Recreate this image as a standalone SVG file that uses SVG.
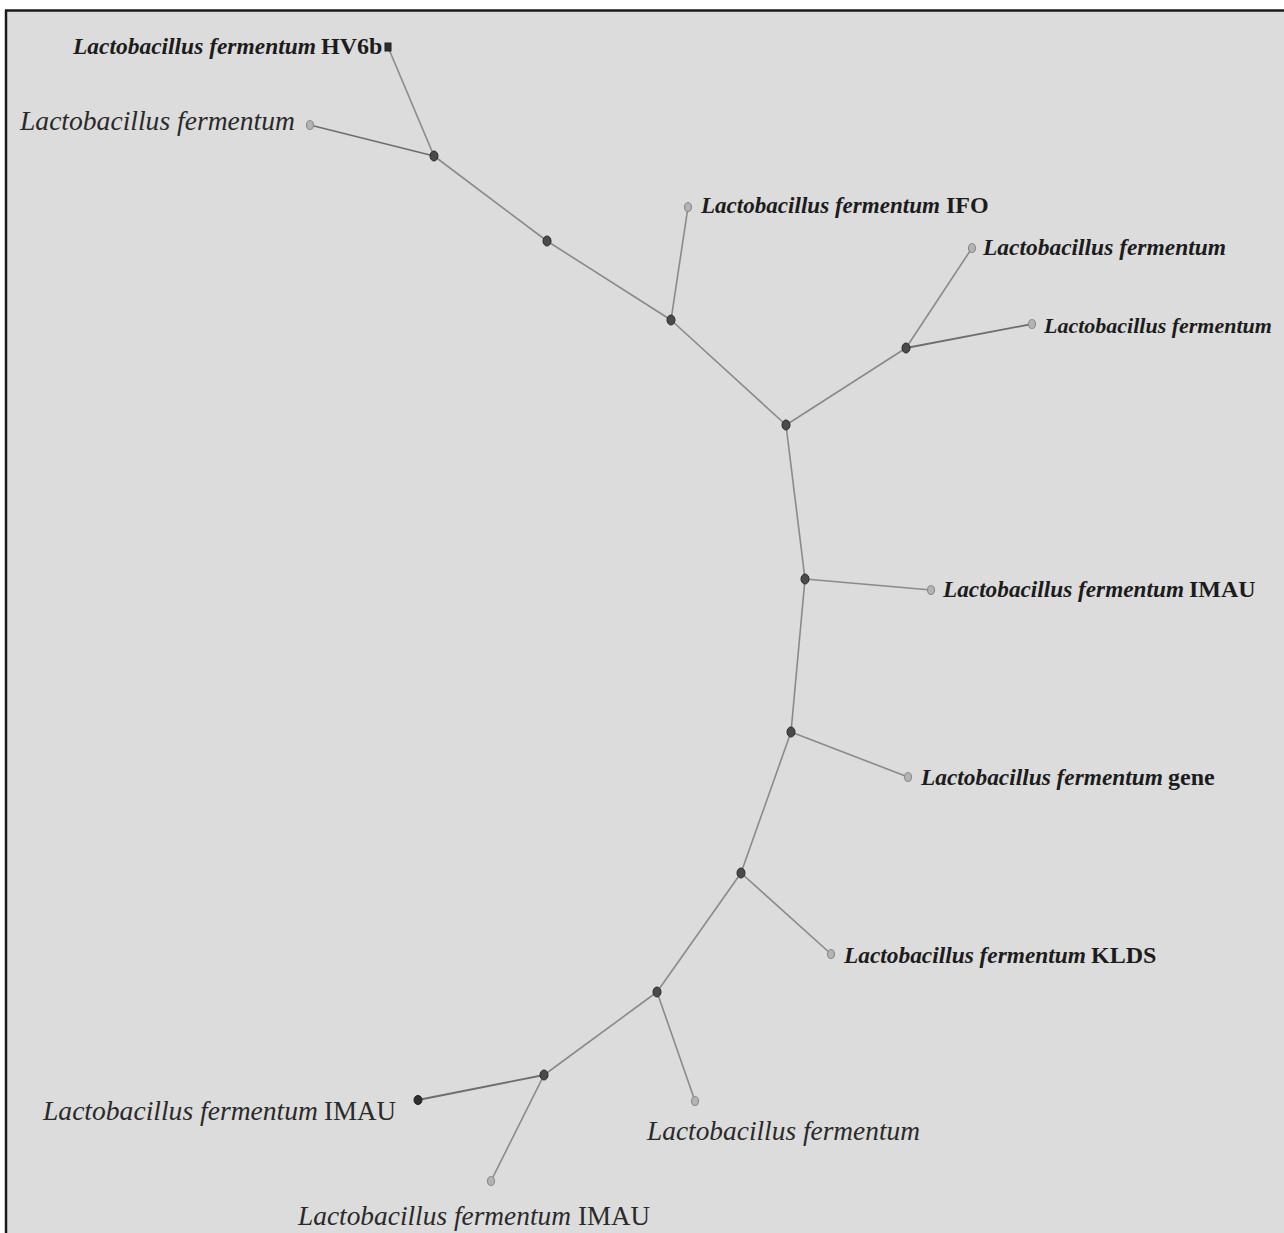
<svg xmlns="http://www.w3.org/2000/svg" width="1284" height="1233" viewBox="0 0 1284 1233">
  <style>
    .edge { stroke: #8a8a8a; stroke-width: 1.6; fill: none; }
    .edge-dark { stroke: #6e6e6e; stroke-width: 1.8; fill: none; }
    .inner { fill: #4a4a4a; stroke: #2a2a2a; stroke-width: 1; }
    .leaf { fill: #b4b4b4; stroke: #8c8c8c; stroke-width: 1.2; }
    .leaf-dark { fill: #2e2e2e; stroke: #1e1e1e; stroke-width: 1; }
    .lbl-b { font-family: "Liberation Serif", "DejaVu Serif", serif; font-weight: bold; font-size: 24px; fill: #1c1c1c; }
    .lbl { font-family: "Liberation Serif", "DejaVu Serif", serif; font-size: 27px; fill: #2a2a2a; }
    .it { font-style: italic; }
  </style>
  <rect x="0" y="0" width="1284" height="1233" fill="#ffffff"/>
  <rect x="6" y="10" width="1278" height="1223" fill="#dcdcdc"/>
  <line x1="5" y1="10.5" x2="1284" y2="10.5" stroke="#1a1a1a" stroke-width="2.5"/>
  <line x1="6" y1="10" x2="6" y2="1233" stroke="#1a1a1a" stroke-width="2.5"/>

  <g id="connectors">
    <line class="edge" x1="434" y1="156" x2="547" y2="241"/>
    <line class="edge" x1="547" y1="241" x2="671" y2="320"/>
    <line class="edge" x1="671" y1="320" x2="786" y2="425"/>
    <line class="edge" x1="786" y1="425" x2="906" y2="348"/>
    <line class="edge" x1="786" y1="425" x2="805" y2="579"/>
    <line class="edge" x1="805" y1="579" x2="791" y2="732"/>
    <line class="edge" x1="791" y1="732" x2="741" y2="873"/>
    <line class="edge" x1="741" y1="873" x2="657" y2="992"/>
    <line class="edge" x1="657" y1="992" x2="544" y2="1075"/>
    <line class="edge" x1="434" y1="156" x2="388" y2="47"/>
    <line class="edge-dark" x1="434" y1="156" x2="310" y2="125"/>
    <line class="edge" x1="671" y1="320" x2="688" y2="207"/>
    <line class="edge" x1="906" y1="348" x2="972" y2="248"/>
    <line class="edge-dark" x1="906" y1="348" x2="1032" y2="324"/>
    <line class="edge" x1="805" y1="579" x2="931" y2="590"/>
    <line class="edge" x1="791" y1="732" x2="908" y2="777"/>
    <line class="edge" x1="741" y1="873" x2="831" y2="954"/>
    <line class="edge" x1="657" y1="992" x2="695" y2="1101"/>
    <line class="edge-dark" x1="544" y1="1075" x2="418" y2="1100"/>
    <line class="edge" x1="544" y1="1075" x2="491" y2="1181"/>
  </g>

  <g id="n-A"><ellipse class="inner" cx="434" cy="156" rx="4" ry="5"/></g>
  <g id="n-B"><ellipse class="inner" cx="547" cy="241" rx="4" ry="5"/></g>
  <g id="n-C"><ellipse class="inner" cx="671" cy="320" rx="4" ry="5"/></g>
  <g id="n-D"><ellipse class="inner" cx="786" cy="425" rx="4" ry="5"/></g>
  <g id="n-E"><ellipse class="inner" cx="906" cy="348" rx="4" ry="5"/></g>
  <g id="n-F"><ellipse class="inner" cx="805" cy="579" rx="4" ry="5"/></g>
  <g id="n-G"><ellipse class="inner" cx="791" cy="732" rx="4" ry="5"/></g>
  <g id="n-H"><ellipse class="inner" cx="741" cy="873" rx="4" ry="5"/></g>
  <g id="n-I"><ellipse class="inner" cx="657" cy="992" rx="4" ry="5"/></g>
  <g id="n-J"><ellipse class="inner" cx="544" cy="1075" rx="4" ry="5"/></g>

  <g id="leaf-hv6b">
    <rect class="leaf-dark" x="385" y="43" width="6" height="8"/>
    <text class="lbl-b it" x="73" y="54" textLength="243" lengthAdjust="spacingAndGlyphs">Lactobacillus fermentum</text>
    <text class="lbl-b" x="321" y="54">HV6b</text>
  </g>
  <g id="leaf-lf1">
    <ellipse class="leaf" cx="310" cy="125" rx="3.5" ry="4.5"/>
    <text class="lbl it" x="20" y="130" textLength="275" lengthAdjust="spacingAndGlyphs">Lactobacillus fermentum</text>
  </g>
  <g id="leaf-ifo">
    <ellipse class="leaf" cx="688" cy="207" rx="3.5" ry="4.5"/>
    <text class="lbl-b it" x="701" y="213" textLength="239" lengthAdjust="spacingAndGlyphs">Lactobacillus fermentum</text>
    <text class="lbl-b" x="946" y="213">IFO</text>
  </g>
  <g id="leaf-lf2">
    <ellipse class="leaf" cx="972" cy="248" rx="3.5" ry="4.5"/>
    <text class="lbl-b it" x="983" y="255" textLength="243" lengthAdjust="spacingAndGlyphs">Lactobacillus fermentum</text>
  </g>
  <g id="leaf-lf3">
    <ellipse class="leaf" cx="1032" cy="324" rx="3.5" ry="4.5"/>
    <text class="lbl-b it" x="1044" y="333" style="font-size:22px">Lactobacillus fermentum</text>
  </g>
  <g id="leaf-imau1">
    <ellipse class="leaf" cx="931" cy="590" rx="3.5" ry="4.5"/>
    <text class="lbl-b it" x="943" y="597" textLength="241" lengthAdjust="spacingAndGlyphs">Lactobacillus fermentum</text>
    <text class="lbl-b" x="1189" y="597">IMAU</text>
  </g>
  <g id="leaf-gene">
    <ellipse class="leaf" cx="908" cy="777" rx="3.5" ry="4.5"/>
    <text class="lbl-b it" x="921" y="785" textLength="242" lengthAdjust="spacingAndGlyphs">Lactobacillus fermentum</text>
    <text class="lbl-b" x="1168" y="785">gene</text>
  </g>
  <g id="leaf-klds">
    <ellipse class="leaf" cx="831" cy="954" rx="3.5" ry="4.5"/>
    <text class="lbl-b it" x="844" y="963" textLength="242" lengthAdjust="spacingAndGlyphs">Lactobacillus fermentum</text>
    <text class="lbl-b" x="1091" y="963">KLDS</text>
  </g>
  <g id="leaf-lf4">
    <ellipse class="leaf" cx="695" cy="1101" rx="3.5" ry="4.5"/>
    <text class="lbl it" x="647" y="1140" textLength="273" lengthAdjust="spacingAndGlyphs">Lactobacillus fermentum</text>
  </g>
  <g id="leaf-imau2">
    <ellipse class="leaf-dark" cx="418" cy="1100" rx="4" ry="4.5"/>
    <text class="lbl it" x="43" y="1120" textLength="275" lengthAdjust="spacingAndGlyphs">Lactobacillus fermentum</text>
    <text class="lbl" x="324" y="1120">IMAU</text>
  </g>
  <g id="leaf-imau3">
    <ellipse class="leaf" cx="491" cy="1181" rx="3.5" ry="4.5"/>
    <text class="lbl it" x="298" y="1225" textLength="273" lengthAdjust="spacingAndGlyphs">Lactobacillus fermentum</text>
    <text class="lbl" x="578" y="1225">IMAU</text>
  </g>
</svg>
